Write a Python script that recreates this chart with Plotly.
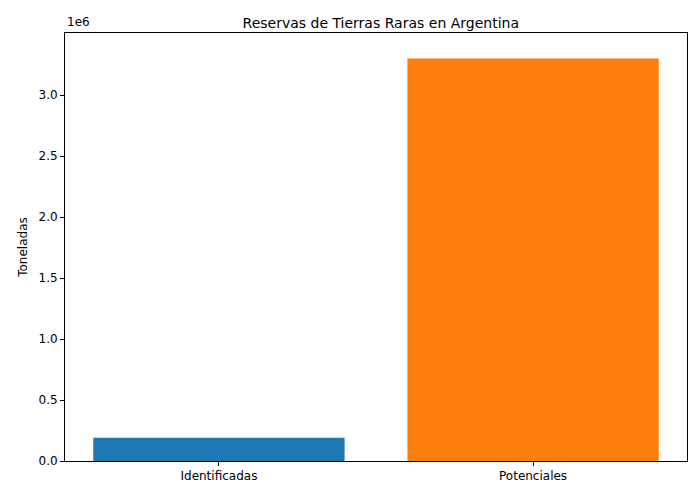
import plotly.graph_objects as go

categories = ["Identificadas", "Potenciales"]
values = [190000, 3300000]
colors = ["#1f77b4", "#ff7f0e"]
tick_vals = [0, 500000, 1000000, 1500000, 2000000, 2500000, 3000000]
tick_text = ["0.0", "0.5", "1.0", "1.5", "2.0", "2.5", "3.0"]

fig = go.Figure(go.Bar(x=[0, 1], y=values, marker_color=colors, width=0.8, marker_line_width=0))
fig.update_layout(
    width=684, height=484, plot_bgcolor="white", paper_bgcolor="white",
    margin=dict(l=57, r=5, t=25, b=31, autoexpand=False),
    font=dict(family="DejaVu Sans", size=12, color="black"),
    title=dict(text="Reservas de Tierras Raras en Argentina", x=0.545, xanchor="center", y=0.969, yanchor="middle", font=dict(size=14)),
    showlegend=False,
)
fig.update_xaxes(range=[-0.49, 1.49], tickvals=[0, 1], ticktext=categories, showline=True, linecolor="black", mirror=True,
                 ticks="outside", ticklen=4, tickcolor="black", showgrid=False, zeroline=False)
fig.update_yaxes(range=[0, 3.51e6], tickvals=tick_vals, ticktext=tick_text, showline=True, linecolor="black", mirror=True,
                 ticks="outside", ticklen=4, tickcolor="black", showgrid=False, zeroline=False,
                 title=dict(text="Toneladas", standoff=8, font=dict(size=12)))
fig.add_annotation(text="1e6", xref="paper", yref="paper", x=0, y=1, xanchor="left", yanchor="bottom", showarrow=False, yshift=2)
fig.write_html("out.html")
